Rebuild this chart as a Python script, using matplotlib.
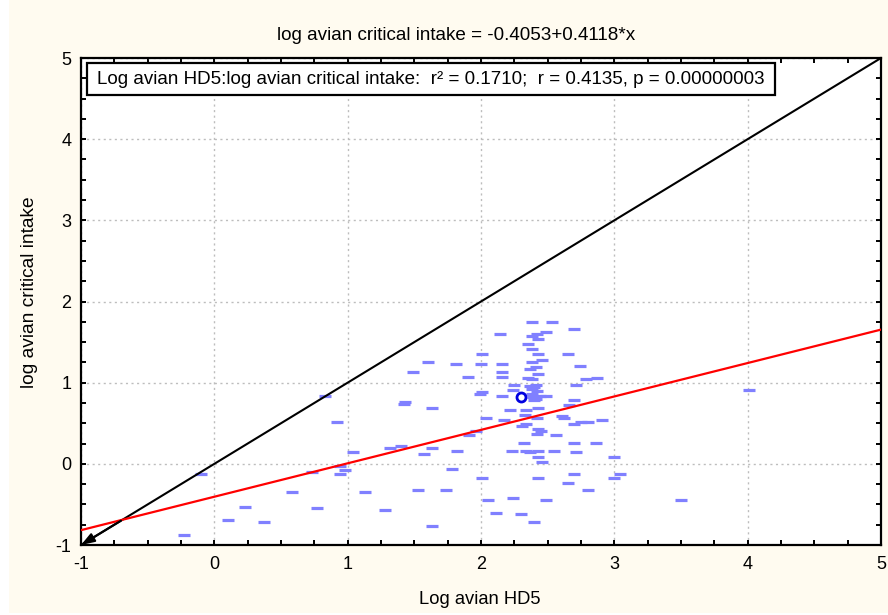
import matplotlib
matplotlib.use("Agg")
import matplotlib.pyplot as plt
from matplotlib.patches import Rectangle
from matplotlib.ticker import MultipleLocator
import numpy as np

plt.rcParams['font.family'] = ['Liberation Sans', 'DejaVu Sans']
plt.rcParams['axes.unicode_minus'] = False

# ---- data ----
hd5 = [-0.23, -0.10, 0.10, 0.23, 0.37, 0.58, 0.73, 0.77, 0.83, 0.92, 0.94, 0.94, 0.98, 1.04,
       1.13, 1.28, 1.32, 1.40, 1.42, 1.43, 1.49, 1.53, 1.57, 1.60, 1.63, 1.63, 1.63, 1.74,
       1.78, 1.81, 1.82, 1.90, 1.91, 1.96, 1.99, 2.01, 2.01, 2.00, 2.04, 2.01, 2.05, 2.11,
       2.14, 2.16, 2.16, 2.16, 2.16, 2.17, 2.22, 2.23, 2.24, 2.25, 2.24, 2.30, 2.31, 2.32,
       2.33, 2.34, 2.34, 2.34, 2.35, 2.35, 2.37, 2.37, 2.38, 2.38, 2.38, 2.38, 2.38, 2.38,
       2.39, 2.40, 2.40, 2.41, 2.41, 2.42, 2.42, 2.42, 2.43, 2.43, 2.43, 2.43, 2.43, 2.43,
       2.43, 2.43, 2.45, 2.46, 2.46, 2.49, 2.49, 2.49, 2.53, 2.55, 2.56, 2.61, 2.62, 2.65,
       2.65, 2.66, 2.70, 2.70, 2.70, 2.70, 2.70, 2.71, 2.71, 2.74, 2.75, 2.79, 2.80, 2.80,
       2.86, 2.87, 2.91, 3.00, 3.00, 3.04, 3.50, 4.01,
       2.40, 2.42, 2.38, 2.41, 2.44, 2.37]
intake = [-0.88, -0.12, -0.69, -0.53, -0.72, -0.35, -0.10, -0.54, 0.84, 0.51, -0.13, -0.03, -0.07, 0.15,
          -0.35, -0.57, 0.19, 0.22, 0.74, 0.76, 1.13, -0.32, 0.12, 1.25, 0.69, 0.19, -0.76, -0.32,
          -0.06, 1.23, 0.16, 1.07, 0.35, 0.41, 0.86, 0.88, 1.35, 1.23, 0.56, -0.18, -0.44, -0.60,
          1.60, 1.23, 1.13, 1.07, 0.84, 0.54, 0.66, 0.16, -0.42, 0.97, 0.91, -0.62, 0.47, 0.26,
          0.60, 0.66, 0.49, 0.16, 1.48, 1.06, 0.15, 1.17, 1.75, 1.57, 1.41, 1.25, 1.04, 0.92,
          0.82, 0.79, -0.72, 1.19, 0.97, 1.60, 0.56, 0.37, 1.54, 1.35, 1.11, 0.69, 0.43, 0.16,
          0.09, -0.18, 0.40, 1.28, 0.02, 1.62, 0.84, -0.44, 1.75, 0.16, 0.35, 0.59, 0.56, 1.35,
          -0.23, 0.73, 1.66, 0.79, 0.49, 0.26, -0.13, 0.97, 0.15, 1.20, 0.51, 1.04, 0.51, -0.32,
          0.26, 1.06, 0.54, 0.09, -0.18, -0.13, -0.44, 0.91,
          0.95, 0.90, 0.86, 0.80, 0.83, 0.96]
highlight_x = [2.30]
highlight_y = [0.82]
intercept = -0.4053
slope = 0.4118
x_range = [-1, 5]
y_range = [-1, 5]
x_ticks = [-1, 0, 1, 2, 3, 4, 5]
y_ticks = [-1, 0, 1, 2, 3, 4, 5]

title_text = "log avian critical intake = -0.4053+0.4118*x"
legend_text = "Log avian HD5:log avian critical intake:  r\u00b2 = 0.1710;  r = 0.4135, p = 0.00000003"
xlabel_text = "Log avian HD5"
ylabel_text = "log avian critical intake"

# ---- figure ----
fig = plt.figure(figsize=(8.88, 6.15), dpi=100, facecolor='white')
cream = Rectangle((9 / 888, 0.004), 1 - 9 / 888, 0.996, transform=fig.transFigure,
                  facecolor='#FFFBF0', edgecolor='none', zorder=-10)
fig.patches.append(cream)

ax = fig.add_axes([81 / 888, 1 - 545 / 615, 800 / 888, 487 / 615])
ax.set_facecolor('white')
ax.set_xlim(*x_range)
ax.set_ylim(*y_range)

ax.xaxis.set_minor_locator(MultipleLocator(0.25))
ax.yaxis.set_minor_locator(MultipleLocator(0.25))
ax.set_xticks(x_ticks)
ax.set_yticks(y_ticks)

ax.grid(True, which='major', color='#BDBDBD', linestyle=(0, (1.5, 2.5)), linewidth=1.0, zorder=0)
for s in ax.spines.values():
    s.set_linewidth(1.6)
    s.set_color('black')
ax.tick_params(which='both', direction='in', top=True, right=True, length=3.5, width=1.4,
               labelsize=13)
ax.tick_params(axis='x', pad=8)
ax.tick_params(axis='y', pad=7)

# scatter
ax.plot(hd5, intake, linestyle='none', marker='_', markersize=8, markeredgewidth=2.3,
        color='#8080FF', zorder=3)
ax.plot(highlight_x, highlight_y, linestyle='none', marker='o', markersize=6.5,
        markerfacecolor='white', markeredgecolor='#0000E0', markeredgewidth=2.0, zorder=4)

# identity line with arrow
xs = np.array(x_range, dtype=float)
ax.plot(xs, xs, color='black', linewidth=1.5, zorder=5)
ax.annotate('', xy=(x_range[0], y_range[0]), xytext=(x_range[0] + 0.3, y_range[0] + 0.3),
            arrowprops=dict(arrowstyle='-|>,head_length=0.8,head_width=0.28', color='black',
                            linewidth=1.5, shrinkA=0, shrinkB=0),
            annotation_clip=False, zorder=6)

# regression line
ax.plot(xs, intercept + slope * xs, color='#FF0000', linewidth=1.6, zorder=5)

# statistics box
box = Rectangle((6 / 800, (545 - 95) / 487), (775 - 87) / 800, 32 / 487, transform=ax.transAxes,
                facecolor='white', edgecolor='black', linewidth=1.6, zorder=7)
ax.add_patch(box)
ax.text(16 / 800, (545 - 79) / 487, legend_text, transform=ax.transAxes, fontsize=13.5,
        va='center', ha='left', zorder=8)

fig.text(456 / 888, 1 - 35 / 615, title_text, ha='center', va='center', fontsize=13.6)
fig.text(480 / 888, 1 - 600 / 615, xlabel_text, ha='center', va='center', fontsize=13.2)
fig.text(30 / 888, 1 - 292 / 615, ylabel_text, ha='center', va='center', fontsize=13.8,
         rotation=90)

fig.savefig('out.png', dpi=100, facecolor=fig.get_facecolor())
